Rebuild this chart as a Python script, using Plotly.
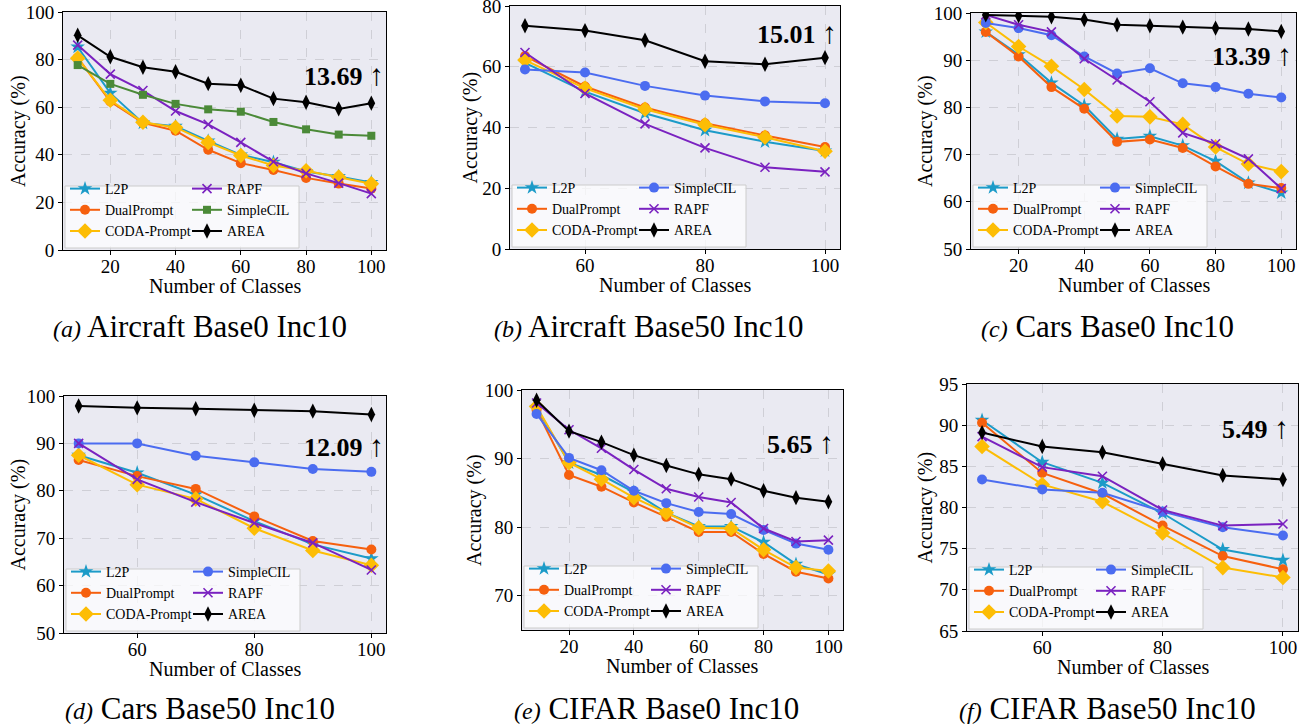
import plotly.graph_objects as go

W, H = 1310, 728

classes_base0 = [10, 20, 30, 40, 50, 60, 70, 80, 90, 100]
classes_base50 = [50, 60, 70, 80, 90, 100]

# (a) Aircraft Base0 Inc10
a_l2p = [85.3, 65.9, 53.4, 52.0, 45.8, 40.0, 36.9, 33.0, 30.9, 28.4]
a_dualprompt = [80.8, 62.4, 53.4, 50.1, 42.1, 36.5, 33.6, 30.3, 27.9, 25.8]
a_coda = [80.6, 62.9, 53.7, 51.5, 45.2, 39.7, 35.5, 33.3, 30.6, 27.8]
a_rapf = [86.1, 73.9, 67.0, 58.4, 52.8, 45.2, 37.1, 32.2, 28.1, 23.7]
a_simplecil = [77.7, 69.8, 65.2, 61.4, 59.1, 58.1, 53.8, 50.7, 48.5, 48.0]
a_area = [90.2, 81.2, 76.8, 74.9, 69.9, 69.2, 63.6, 62.1, 59.3, 61.7]

# (b) Aircraft Base50 Inc10
b_l2p = [61.3, 51.8, 44.7, 39.1, 35.3, 32.3]
b_dualprompt = [63.5, 53.5, 46.6, 41.4, 37.4, 33.6]
b_coda = [62.2, 52.9, 46.0, 40.9, 36.8, 32.2]
b_simplecil = [59.1, 58.1, 53.7, 50.5, 48.6, 48.0]
b_rapf = [64.7, 51.2, 41.2, 33.3, 26.9, 25.4]
b_area = [73.5, 71.9, 68.7, 61.8, 60.8, 63.0]

# (c) Cars Base0 Inc10
c_l2p = [96.0, 91.2, 85.2, 80.4, 73.3, 73.9, 71.9, 68.6, 64.0, 61.9]
c_dualprompt = [96.0, 90.8, 84.3, 79.7, 72.7, 73.2, 71.4, 67.5, 63.8, 62.9]
c_coda = [98.0, 92.9, 88.7, 83.8, 78.2, 78.0, 76.4, 71.6, 68.0, 66.4]
c_simplecil = [97.9, 96.8, 95.3, 90.8, 87.2, 88.3, 85.1, 84.3, 82.9, 82.1]
c_rapf = [99.6, 97.5, 96.0, 90.3, 85.8, 81.2, 74.6, 72.3, 69.1, 62.8]
c_area = [99.6, 99.4, 99.2, 98.6, 97.5, 97.3, 97.0, 96.8, 96.6, 96.1]

# (d) Cars Base50 Inc10
d_l2p = [87.5, 83.8, 79.2, 73.6, 68.7, 65.7]
d_dualprompt = [86.5, 83.1, 80.4, 74.6, 69.4, 67.6]
d_coda = [87.5, 81.3, 78.3, 72.1, 67.4, 64.3]
d_simplecil = [90.0, 90.0, 87.4, 86.0, 84.6, 84.0]
d_rapf = [90.0, 82.4, 77.6, 73.2, 69.0, 63.3]
d_area = [97.9, 97.5, 97.3, 97.0, 96.8, 96.1]

# (e) CIFAR Base0 Inc10
e_l2p = [97.4, 89.4, 87.6, 85.1, 82.1, 80.1, 80.1, 77.8, 74.6, 73.1]
e_dualprompt = [97.1, 87.6, 85.9, 83.6, 81.5, 79.3, 79.3, 76.1, 73.5, 72.5]
e_coda = [97.6, 89.4, 87.0, 84.3, 82.1, 79.9, 79.8, 76.7, 74.1, 73.6]
e_simplecil = [96.5, 90.1, 88.3, 85.3, 83.5, 82.2, 81.9, 79.6, 77.6, 76.7]
e_rapf = [98.1, 94.2, 91.5, 88.4, 85.6, 84.4, 83.6, 79.8, 77.9, 78.1]
e_area = [98.5, 94.0, 92.4, 90.5, 89.0, 87.7, 87.0, 85.3, 84.3, 83.7]

# (f) CIFAR Base50 Inc10
f_l2p = [90.6, 85.5, 83.0, 79.3, 74.9, 73.6]
f_dualprompt = [90.3, 84.2, 81.7, 77.8, 74.1, 72.5]
f_coda = [87.4, 82.8, 80.7, 76.9, 72.7, 71.5]
f_simplecil = [83.4, 82.2, 81.8, 79.5, 77.6, 76.6]
f_rapf = [88.6, 84.9, 83.8, 79.7, 77.8, 78.0]
f_area = [89.1, 87.4, 86.7, 85.3, 83.9, 83.4]

captions_tag = ["(a)", "(b)", "(c)", "(d)", "(e)", "(f)"]
captions_text = ["Aircraft Base0 Inc10", "Aircraft Base50 Inc10", "Cars Base0 Inc10",
                 "Cars Base50 Inc10", "CIFAR Base0 Inc10", "CIFAR Base50 Inc10"]
gains = ["13.69", "15.01", "13.39", "12.09", "5.65", "5.49"]

FONT = "Liberation Serif"
STYLE = {
    "L2P": dict(color="#1c9bc8", symbol="star", size=11),
    "DualPrompt": dict(color="#f6600e", symbol="circle", size=10),
    "CODA-Prompt": dict(color="#fdbd05", symbol="diamond", size=12),
    "SimpleCIL": dict(color="#4b6cf0", symbol="circle", size=10),
    "SimpleCIL_green": dict(color="#4b8a38", symbol="square", size=8),
    "RAPF": dict(color="#7a22c0", symbol="x-thin", size=9),
    "AREA": dict(color="#000000", symbol="diamond-tall", size=11),
}

panels = [
    dict(x=classes_base0, series=[("L2P", a_l2p), ("DualPrompt", a_dualprompt), ("CODA-Prompt", a_coda),
                                  ("RAPF", a_rapf), ("SimpleCIL_green", a_simplecil), ("AREA", a_area)],
         box=(63, 386, 12, 250), xr=[5.5, 104.5], xt=[20, 40, 60, 80, 100], yr=[0, 100],
         yt=[0, 20, 40, 60, 80, 100], gain_pos=(386, 75), ytitle_x=18, cap_x=200, cap_y=326),
    dict(x=classes_base50, series=[("L2P", b_l2p), ("DualPrompt", b_dualprompt), ("CODA-Prompt", b_coda),
                                   ("SimpleCIL", b_simplecil), ("RAPF", b_rapf), ("AREA", b_area)],
         box=(510, 840, 6, 249), xr=[47.5, 102.5], xt=[60, 80, 100], yr=[0, 80],
         yt=[0, 20, 40, 60, 80], gain_pos=(839, 33), ytitle_x=470, cap_x=648, cap_y=326),
    dict(x=classes_base0, series=[("L2P", c_l2p), ("DualPrompt", c_dualprompt), ("CODA-Prompt", c_coda),
                                  ("SimpleCIL", c_simplecil), ("RAPF", c_rapf), ("AREA", c_area)],
         box=(971, 1296, 13, 249), xr=[5.5, 104.5], xt=[20, 40, 60, 80, 100], yr=[50, 100],
         yt=[50, 60, 70, 80, 90, 100], gain_pos=(1294, 55), ytitle_x=925, cap_x=1107, cap_y=326),
    dict(x=classes_base50, series=[("L2P", d_l2p), ("DualPrompt", d_dualprompt), ("CODA-Prompt", d_coda),
                                   ("SimpleCIL", d_simplecil), ("RAPF", d_rapf), ("AREA", d_area)],
         box=(64, 386, 396, 633), xr=[47.5, 102.5], xt=[60, 80, 100], yr=[50, 100],
         yt=[50, 60, 70, 80, 90, 100], gain_pos=(386, 445), ytitle_x=18, cap_x=200, cap_y=708),
    dict(x=classes_base0, series=[("L2P", e_l2p), ("DualPrompt", e_dualprompt), ("CODA-Prompt", e_coda),
                                  ("SimpleCIL", e_simplecil), ("RAPF", e_rapf), ("AREA", e_area)],
         box=(522, 843, 390, 630), xr=[5.5, 104.5], xt=[20, 40, 60, 80, 100], yr=[65, 100],
         yt=[70, 80, 90, 100], gain_pos=(836, 443), ytitle_x=475, cap_x=656, cap_y=708),
    dict(x=classes_base50, series=[("L2P", f_l2p), ("DualPrompt", f_dualprompt), ("CODA-Prompt", f_coda),
                                   ("SimpleCIL", f_simplecil), ("RAPF", f_rapf), ("AREA", f_area)],
         box=(967, 1298, 384, 631), xr=[47.5, 102.5], xt=[60, 80, 100], yr=[65, 95],
         yt=[65, 70, 75, 80, 85, 90, 95], gain_pos=(1291, 427), ytitle_x=925, cap_x=1107, cap_y=708),
]


def px_x(p):
    return min(1.0, max(0.0, p / W))


def px_y(p):
    return min(1.0, max(0.0, 1 - p / H))


fig = go.Figure()
layout = dict(width=W, height=H, margin=dict(l=0, r=0, t=0, b=0, autoexpand=False),
              paper_bgcolor="white", plot_bgcolor="#eaeaf2", showlegend=True,
              font=dict(family=FONT, color="black"))
annotations = []
shapes = []

for i, p in enumerate(panels):
    n = i + 1
    xa = "x" if n == 1 else f"x{n}"
    ya = "y" if n == 1 else f"y{n}"
    l, r, t, b = p["box"]
    ax_common = dict(showline=True, mirror=True, linecolor="black", linewidth=1,
                     ticks="outside", ticklen=4, tickcolor="black", automargin=False,
                     ticklabeloverflow="allow",
                     showgrid=True, gridcolor="#cfcfd6", griddash="dash", gridwidth=1,
                     zeroline=False, tickfont=dict(family=FONT, size=19, color="black"))
    layout["xaxis" if n == 1 else f"xaxis{n}"] = dict(
        domain=[px_x(l), px_x(r)], range=p["xr"], tickvals=p["xt"], anchor=ya,
        ticklabelstandoff=-5, **ax_common)
    layout["yaxis" if n == 1 else f"yaxis{n}"] = dict(
        domain=[px_y(b), px_y(t)], range=p["yr"], tickvals=p["yt"], anchor=xa, **ax_common)

    leg1 = f"legend{2 * i + 1}" if i > 0 else "legend"
    leg2 = f"legend{2 * i + 2}"
    for k, (key, vals) in enumerate(p["series"]):
        st = STYLE[key]
        name = "SimpleCIL" if key.startswith("SimpleCIL") else key
        marker = dict(symbol=st["symbol"], size=st["size"], color=st["color"])
        if st["symbol"] == "x-thin":
            marker["line"] = dict(width=1.6, color=st["color"])
        else:
            marker["line"] = dict(width=0)
        fig.add_trace(go.Scatter(
            x=p["x"], y=vals, name=name, mode="lines+markers",
            line=dict(color=st["color"], width=2), marker=marker,
            xaxis=xa, yaxis=ya, legend=leg1 if k < 3 else leg2))

    # legend box
    bx0, by0 = l + 2, b - 2
    bx1, by1 = l + 236, b - 64
    shapes.append(dict(type="rect", xref="paper", yref="paper",
                       x0=px_x(bx0), x1=px_x(bx1), y0=px_y(by0), y1=px_y(by1),
                       fillcolor="rgba(255,255,255,0.72)", line=dict(color="#cccccc", width=1),
                       layer="above"))
    for j, lg in enumerate([leg1, leg2]):
        layout[lg] = dict(x=px_x(l + 2 + j * 122), y=px_y(b - 3), xanchor="left", yanchor="bottom",
                          orientation="v", bgcolor="rgba(0,0,0,0)", borderwidth=0,
                          font=dict(family=FONT, size=14, color="black"),
                          itemwidth=30, tracegroupgap=0, traceorder="normal")

    # gain annotation
    gx, gy = p["gain_pos"]
    annotations.append(dict(xref="paper", yref="paper", x=px_x(gx), y=px_y(gy),
                            xanchor="right", yanchor="middle", showarrow=False,
                            text=f"<b>{gains[i]}</b> <span style='font-size:30px'>\u2191</span>",
                            font=dict(family=FONT, size=26, color="black")))
    # axis titles
    annotations.append(dict(xref="paper", yref="paper", x=px_x((l + r) / 2), y=px_y(b + 36),
                            xanchor="center", yanchor="middle", showarrow=False,
                            text="Number of Classes", font=dict(family=FONT, size=20, color="black")))
    annotations.append(dict(xref="paper", yref="paper", x=px_x(p["ytitle_x"]), y=px_y((t + b) / 2),
                            xanchor="center", yanchor="middle", showarrow=False, textangle=-90,
                            text="Accuracy (%)", font=dict(family=FONT, size=20, color="black")))
    # caption
    annotations.append(dict(xref="paper", yref="paper", x=px_x(p["cap_x"]), y=px_y(p["cap_y"]),
                            xanchor="center", yanchor="middle", showarrow=False,
                            text=f"<i><span style='font-size:24px'>{captions_tag[i]}</span></i> {captions_text[i]}",
                            font=dict(family=FONT, size=31, color="black")))

layout["annotations"] = annotations
layout["shapes"] = shapes
fig.update_layout(**layout)
fig.write_html("out.html", config={"displayModeBar": False},
               post_script="document.body.style.margin='0px';")
